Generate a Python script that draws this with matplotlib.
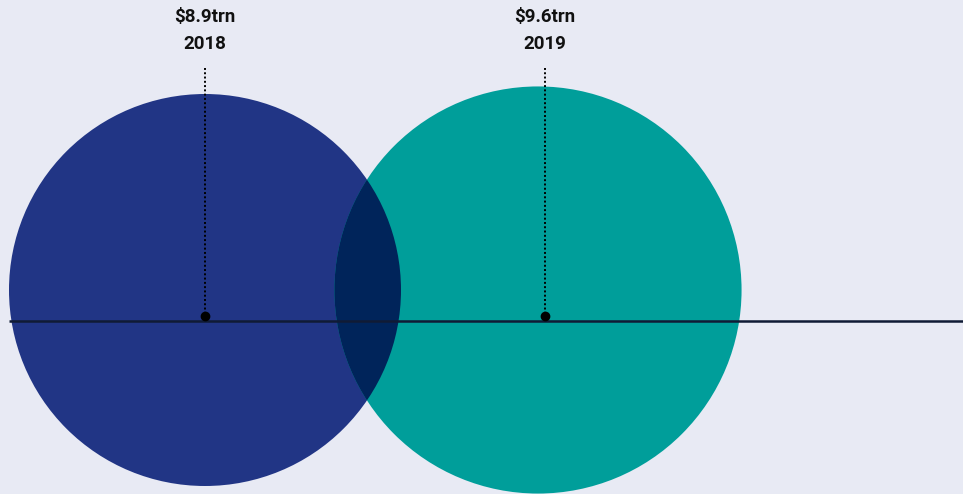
import matplotlib.pyplot as plt
from matplotlib.patches import Circle
import numpy as np

plt.rcParams['font.family'] = ['Roboto', 'DejaVu Sans']

years = ["2018", "2019"]
values = [8.9, 9.6]  # $ trillion
labels = ["$8.9trn", "$9.6trn"]
colors = ["#213585", "#009e9a"]
overlap_color = "#00245a"
bg = "#e8eaf4"

W, H = 963, 494
fig = plt.figure(figsize=(W / 100, H / 100), dpi=100, facecolor=bg)
ax = fig.add_axes([0, 0, 1, 1])
ax.set_xlim(0, W)
ax.set_ylim(H, 0)
ax.set_facecolor(bg)
ax.axis("off")

# bubble area proportional to value
scale = 196 / np.sqrt(values[0])
radii = [scale * np.sqrt(v) for v in values]
marker_x = [205, 545]
bubble_x = [205, 538]
cy = 290

circles = []
for x, r, c in zip(bubble_x, radii, colors):
    circ = Circle((x, cy), r, color=c, lw=0, zorder=1)
    ax.add_patch(circ)
    circles.append(circ)

# darker lens where the two bubbles overlap
lens = Circle((bubble_x[0], cy), radii[0], color=overlap_color, lw=0, zorder=2)
ax.add_patch(lens)
lens.set_clip_path(circles[1])

# baseline
ax.plot([bubble_x[0] - radii[0], W], [321, 321], color="#101b35", lw=1.8,
        zorder=3, solid_capstyle="butt")

for x, lab, yr in zip(marker_x, labels, years):
    ax.plot([x, x], [68, 316], color="black", lw=1.4, ls=(0, (1, 1.2)), zorder=4)
    ax.plot(x, 316, "o", color="black", ms=6, zorder=5)
    ax.text(x, 17, lab, ha="center", va="center", fontsize=13.5,
            fontweight="bold", color="#111111")
    ax.text(x, 44, yr, ha="center", va="center", fontsize=13.5,
            fontweight="bold", color="#111111")

fig.savefig("out.png", dpi=100, facecolor=bg)
